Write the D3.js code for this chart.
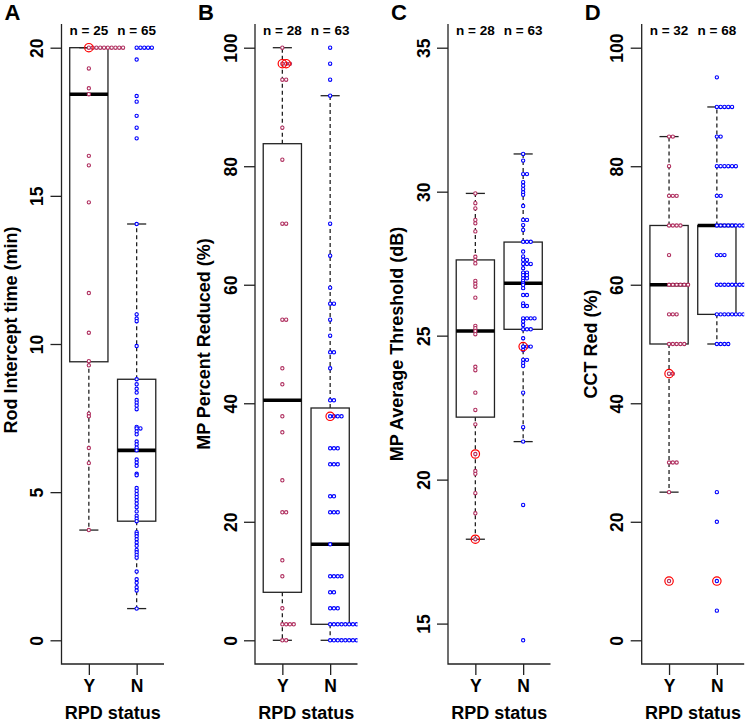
<!DOCTYPE html>
<html>
<head>
<meta charset="utf-8">
<script src="https://d3js.org/d3.v7.min.js"></script>
<style>
  body { margin: 0; background: #fff; }
  text { font-family: "Liberation Sans", Arial, Helvetica, sans-serif; font-weight: bold; fill: #000; }
</style>
</head>
<body>
<div id="chart"></div>
<script>
var svgWidth = 747;
var svgHeight = 722;

// Groups on the x axis
var groups = ["Y", "N"];
var groupColors = ["#B03060", "#0000FF"];

// Panel A: Rod Intercept time (min)
var rodY = [20, 20, 20, 20, 20, 20, 20, 20, 20, 20, 19.3, 18.63, 18.43, 16.35, 16.03, 14.78,
  11.72, 10.38, 9.42, 9.28, 7.65, 7.56, 6.49, 5.98, 3.72];
var rodN = [20, 20, 20, 20, 20, 19.6, 18.37, 18.18, 17.7, 17.3, 16.94, 14.05, 11.0, 10.86, 10.77,
  9.93, 8.81, 8.64, 8.49, 8.36, 8.11, 8.02, 7.92, 7.8, 7.2, 7.15, 7.15, 7.05, 6.95, 6.71, 6.61,
  6.5, 6.41, 6.1, 6.0, 5.89, 5.62, 5.57, 5.14, 5.04, 4.93, 4.83, 4.72, 4.61, 4.49, 4.35, 4.2,
  4.11, 4.02, 3.65, 3.59, 3.51, 3.41, 3.3, 3.19, 3.05, 2.97, 2.88, 2.79, 2.32, 2.06, 1.94, 1.79,
  1.68, 1.07];
// box stats: [lower whisker, lower hinge, median, upper hinge, upper whisker]
var rodBoxY = [3.72, 9.4, 18.43, 20, 20];
var rodBoxN = [1.07, 4.02, 6.41, 8.81, 14.05];
var rodHiY = [20];
var rodHiN = [];
var rodTicks = [0, 5, 10, 15, 20];

// Panel B: MP Percent Reduced (%)
var mpRedY = [100, 97.3, 97.3, 97.3, 94.6, 94.6, 86.5, 81.1, 70.3, 70.3, 54.1, 54.1, 45.9, 43.2,
  37.8, 35.1, 27.0, 21.6, 21.6, 13.5, 10.8, 5.4, 2.7, 2.7, 2.7, 2.7, 0, 0];
var mpRedN = [100, 97.3, 94.6, 91.9, 70.3, 64.9, 59.5, 56.8, 56.8, 54.1, 51.4, 48.6, 48.6, 45.9,
  40.5, 40.5, 37.8, 37.8, 37.8, 37.8, 32.4, 32.4, 32.4, 29.7, 29.7, 29.7, 24.3, 24.3,
  21.6, 21.6, 21.6, 16.2, 10.8, 10.8, 10.8, 10.8, 8.1, 8.1, 5.4, 5.4, 5.4,
  2.7, 2.7, 2.7, 2.7, 2.7, 2.7, 2.7, 2.7, 2.7, 2.7, 2.7,
  0, 0, 0, 0, 0, 0, 0, 0, 0, 0, 0];
var mpRedBoxY = [0, 8.1, 40.5, 83.8, 100];
var mpRedBoxN = [0, 2.7, 16.2, 39.2, 91.9];
var mpRedHiY = [97.3, 97.3];
var mpRedHiN = [37.8];
var mpRedTicks = [0, 20, 40, 60, 80, 100];

// Panel C: MP Average Threshold (dB)
var mpAvgY = [29.94, 29.6, 29.42, 29.02, 28.9, 28.62, 27.74, 27.63, 27.51, 26.9, 26.8, 26.7,
  26.32, 25.34, 25.26, 25.16, 25.05, 23.92, 23.8, 23.02, 22.42, 21.92, 20.89, 20.3, 20.2,
  19.53, 18.83, 17.93];
var mpAvgN = [31.31, 31.08, 30.61, 30.61, 30.33, 30.21, 30.09, 29.98, 29.89, 29.5, 29.02, 29.02,
  28.84, 28.67, 28.26, 28.26, 28.26, 27.92, 27.75, 27.63, 27.63, 27.49, 27.49, 27.49, 27.34,
  27.19, 27.19, 27.1, 27.1, 26.99, 26.99, 26.9, 26.82, 26.76, 26.65, 26.41, 26.41, 26.12,
  26.03, 26.03, 25.6, 25.6, 25.6, 25.6, 25.49, 25.37, 25.22, 25.22, 25.22, 24.91,
  24.62, 24.62, 24.62, 24.5, 24.16, 24.16, 24.05, 23.95, 23.02, 21.82, 21.32, 19.12, 14.42];
var mpAvgBoxY = [17.93, 22.17, 25.16, 27.63, 29.94];
var mpAvgBoxN = [21.32, 25.22, 26.82, 28.25, 31.31];
var mpAvgHiY = [20.89, 17.93];
var mpAvgHiN = [24.62];
var mpAvgTicks = [15, 20, 25, 30, 35];

// Panel D: CCT Red (%)
var cctY = [85, 85, 80, 75, 75, 75, 70, 70, 70, 70, 65, 60, 60, 60, 60, 60, 60, 55, 55, 55,
  50, 50, 50, 50, 50, 45, 45, 30, 30, 30, 25, 10];
var cctN = [95, 90, 90, 90, 90, 90, 85, 85, 80, 80, 80, 80, 80, 80, 75, 75,
  70, 70, 70, 70, 70, 70, 70, 70, 70, 70, 70, 70, 70, 70, 70, 70, 70, 70, 70,
  65, 65, 65, 60, 60, 60, 60, 60, 60, 60, 60, 60, 60, 60,
  55, 55, 55, 55, 55, 55, 55, 55, 55, 55, 55, 50, 50, 50, 50, 25, 20, 10, 5];
var cctBoxY = [25, 50, 60, 70, 85];
var cctBoxN = [50, 55, 70, 70, 90];
var cctHiY = [45, 10];
var cctHiN = [10];
var cctTicks = [0, 20, 40, 60, 80, 100];

var panels = [
  { letter: "A", left: 61.5, title: "Rod Intercept time (min)", titleY: 330, ylim: [0, 20], ticks: rodTicks,
    values: [rodY, rodN], boxes: [rodBoxY, rodBoxN], hi: [rodHiY, rodHiN] },
  { letter: "B", left: 255, title: "MP Percent Reduced (%)", titleY: 344, ylim: [0, 100], ticks: mpRedTicks,
    values: [mpRedY, mpRedN], boxes: [mpRedBoxY, mpRedBoxN], hi: [mpRedHiY, mpRedHiN] },
  { letter: "C", left: 448, title: "MP Average Threshold (dB)", titleY: 344, ylim: [14.42, 35], ticks: mpAvgTicks,
    values: [mpAvgY, mpAvgN], boxes: [mpAvgBoxY, mpAvgBoxN], hi: [mpAvgHiY, mpAvgHiN] },
  { letter: "D", left: 641.7, title: "CCT Red (%)", titleY: 344, ylim: [0, 100], ticks: cctTicks,
    values: [cctY, cctN], boxes: [cctBoxY, cctBoxN], hi: [cctHiY, cctHiN] }
];

var plotWidth = 102.5;
var plotTop = 24;
var plotBottom = 664;
var stackStep = 3.8;
var boxHalf = 0.4;

var svg = d3.select("#chart")
  .append("svg")
  .attr("width", svgWidth)
  .attr("height", svgHeight);

panels.forEach(function(p, pi) {
  var g = svg.append("g")
    .attr("transform", `translate(${p.left}, 0)`);

  // R style axis limits: data range padded by 4% each side
  var pad = (p.ylim[1] - p.ylim[0]) * 0.04;
  var yScale = d3.scaleLinear()
    .domain([p.ylim[0] - pad, p.ylim[1] + pad])
    .range([plotBottom, plotTop]);

  var xScale = d3.scaleLinear()
    .domain([0.428, 2.572])
    .range([0, plotWidth]);

  g.append("clipPath")
    .attr("id", "clip" + pi)
    .append("rect")
    .attr("x", 0)
    .attr("y", plotTop)
    .attr("width", plotWidth)
    .attr("height", plotBottom - plotTop);

  // Boxes, whiskers and medians
  p.boxes.forEach(function(b, gi) {
    var cx = xScale(gi + 1);
    var x0 = xScale(gi + 1 - boxHalf);
    var x1 = xScale(gi + 1 + boxHalf);
    var capHalf = (x1 - x0) / 4;

    g.append("rect")
      .attr("x", x0)
      .attr("y", yScale(b[3]))
      .attr("width", x1 - x0)
      .attr("height", yScale(b[1]) - yScale(b[3]))
      .attr("fill", "#fff")
      .attr("stroke", "#222")
      .attr("stroke-width", 1.3);

    [[b[1], b[0]], [b[3], b[4]]].forEach(function(w) {
      if (w[0] === w[1]) return;
      g.append("line")
        .attr("x1", cx).attr("x2", cx)
        .attr("y1", yScale(w[0])).attr("y2", yScale(w[1]))
        .attr("stroke", "#222")
        .attr("stroke-width", 1.3)
        .attr("stroke-dasharray", "4,3");
    });

    [b[0], b[4]].forEach(function(v) {
      g.append("line")
        .attr("x1", cx - capHalf).attr("x2", cx + capHalf)
        .attr("y1", yScale(v)).attr("y2", yScale(v))
        .attr("stroke", "#222")
        .attr("stroke-width", 1.3);
    });

    g.append("line")
      .attr("x1", x0).attr("x2", x1)
      .attr("y1", yScale(b[2])).attr("y2", yScale(b[2]))
      .attr("stroke", "#000")
      .attr("stroke-width", 3.6);
  });

  // Stacked points (equal values are laid out to the right)
  var pts = g.append("g").attr("clip-path", `url(#clip${pi})`);

  p.values.forEach(function(vals, gi) {
    var seen = {};
    var slots = vals.map(function(v) {
      var k = seen[v] || 0;
      seen[v] = k + 1;
      return { v: v, k: k };
    });

    pts.selectAll(null)
      .data(slots)
      .enter()
      .append("circle")
      .attr("cx", d => xScale(gi + 1) + d.k * stackStep)
      .attr("cy", d => yScale(d.v))
      .attr("r", 1.65)
      .attr("fill", "#fff")
      .attr("stroke", groupColors[gi])
      .attr("stroke-width", 1.1);

    var hiSeen = {};
    var hiSlots = p.hi[gi].map(function(v) {
      var k = hiSeen[v] || 0;
      hiSeen[v] = k + 1;
      return { v: v, k: k };
    });

    pts.selectAll(null)
      .data(hiSlots)
      .enter()
      .append("circle")
      .attr("cx", d => xScale(gi + 1) + d.k * stackStep)
      .attr("cy", d => yScale(d.v))
      .attr("r", 4.2)
      .attr("fill", "none")
      .attr("stroke", "#FF0000")
      .attr("stroke-width", 1.2);
  });

  // L shaped frame
  g.append("path")
    .attr("d", `M0,${plotTop}V${plotBottom}H${plotWidth}`)
    .attr("fill", "none")
    .attr("stroke", "#222")
    .attr("stroke-width", 1.3);

  // Y axis
  var leftAxis = d3.axisLeft(yScale)
    .tickValues(p.ticks)
    .tickSize(11)
    .tickSizeOuter(0);

  var yAxisG = g.append("g").call(leftAxis);
  yAxisG.select(".domain").remove();
  yAxisG.selectAll(".tick line").attr("stroke", "#222").attr("stroke-width", 1.3);
  yAxisG.selectAll(".tick text")
    .attr("x", null)
    .attr("dy", null)
    .attr("text-anchor", "middle")
    .attr("transform", "translate(-18.5,0) rotate(-90)")
    .style("font-size", "17.5px")
    .style("font-family", "Liberation Sans, Arial, sans-serif")
    .style("font-weight", "bold");

  // X axis
  var bottomAxis = d3.axisBottom(xScale)
    .tickValues([1, 2])
    .tickFormat(d => groups[d - 1])
    .tickSize(11)
    .tickSizeOuter(0);

  var xAxisG = g.append("g")
    .attr("transform", `translate(0, ${plotBottom})`)
    .call(bottomAxis);
  xAxisG.select(".domain").remove();
  xAxisG.selectAll(".tick line").attr("stroke", "#222").attr("stroke-width", 1.3);
  xAxisG.selectAll(".tick text")
    .attr("y", 28)
    .attr("dy", null)
    .style("font-size", "17.5px")
    .style("font-family", "Liberation Sans, Arial, sans-serif")
    .style("font-weight", "bold");

  // Sample sizes above each group
  g.selectAll(null)
    .data(p.values)
    .enter()
    .append("text")
    .attr("x", (d, i) => xScale(i + 1))
    .attr("y", 35)
    .attr("text-anchor", "middle")
    .style("font-size", "13.5px")
    .text(d => `n = ${d.length}`);

  // Axis titles
  g.append("text")
    .attr("transform", `translate(-45, ${p.titleY}) rotate(-90)`)
    .attr("text-anchor", "middle")
    .style("font-size", "18px")
    .text(p.title);

  g.append("text")
    .attr("x", plotWidth / 2)
    .attr("y", 719)
    .attr("text-anchor", "middle")
    .style("font-size", "18px")
    .text("RPD status");

  // Panel letter
  g.append("text")
    .attr("x", -57)
    .attr("y", 20)
    .style("font-size", "22px")
    .text(p.letter);
});
</script>
</body>
</html>
